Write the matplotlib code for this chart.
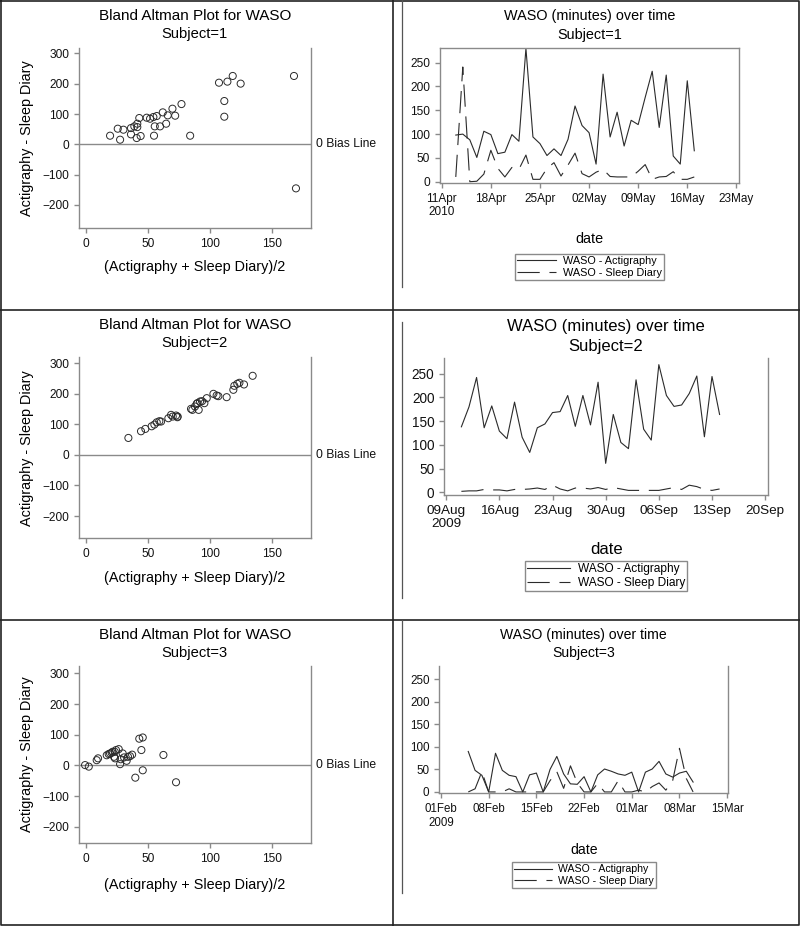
import numpy as np
import pandas as pd
import matplotlib
matplotlib.use("Agg")
import matplotlib.pyplot as plt
import matplotlib.transforms as mtransforms
from matplotlib.lines import Line2D

plt.rcParams["font.family"] = ["Liberation Sans", "DejaVu Sans"]
plt.rcParams["lines.scale_dashes"] = False

W, H = 800, 926

# ── Bland-Altman data (mean, difference) ──────────────────────────────────────
BA1_MEAN = [19.4, 25.6, 27.5, 30.2, 36.3, 36.3, 39.0, 40.9, 41.4, 41.4, 43.0, 44.1,
            49.0, 51.7, 54.4, 54.9, 55.5, 57.1, 59.8, 62.0, 64.7, 66.0, 69.8, 72.0,
            77.1, 84.1, 107.4, 111.7, 111.7, 114.2, 118.5, 124.9, 168.0, 169.6]
BA1_DIFF = [28.6, 51.7, 15.4, 48.4, 53.8, 33.0, 59.4, 20.9, 68.2, 57.0, 86.9, 27.5,
            88.0, 84.7, 90.2, 28.6, 59.4, 93.5, 59.4, 105.6, 68.2, 95.7, 117.7, 94.6,
            133.0, 28.6, 203.5, 143.0, 91.3, 207.0, 225.7, 200.4, 225.7, -145.2]

BA2_MEAN = [34.2, 44.4, 47.9, 53.0, 55.2, 57.1, 59.2, 60.6, 66.5, 68.7, 70.0, 72.7,
            73.8, 74.0, 84.8, 85.9, 88.0, 89.4, 90.0, 91.0, 92.1, 93.7, 95.6, 97.5,
            102.9, 105.5, 106.9, 113.6, 119.0, 119.8, 122.2, 123.9, 127.6, 134.6]
BA2_DIFF = [55.8, 77.7, 85.4, 94.0, 99.6, 107.0, 110.6, 109.5, 120.4, 131.4, 125.9, 129.2,
            123.7, 126.0, 151.0, 147.8, 158.7, 167.5, 170.0, 147.8, 175.2, 176.2, 169.7, 186.1,
            200.3, 194.9, 192.7, 189.4, 213.5, 226.6, 233.2, 236.5, 231.0, 259.4]

BA3_MEAN = [-0.8, 2.2, 8.6, 9.7, 16.7, 18.3, 19.4, 20.7, 21.5, 23.2, 24.2, 26.4,
            22.6, 23.4, 27.5, 28.0, 29.6, 30.7, 32.8, 33.9, 35.5, 37.2, 39.8, 43.0,
            44.7, 45.8, 45.8, 62.5, 72.7]
BA3_DIFF = [1, -4, 17, 23, 33, 37, 39, 41, 44.5, 44.5, 50, 53,
            28, 23, 4, 20, 39, 26, 15, 28, 30, 35, -40, 87,
            50, 91, -16, 34, -55]

# ── WASO time series (one value per day) ──────────────────────────────────────
TS1_START = "2010-04-13"
TS1_ACT = [98, 100, 88, 51, 106, 99, 59, 62, 99, 85, 280, 94, 80, 55, 69, 55, 89, 159,
           118, 103, 37, 226, 94, 146, 75, 129, 120, 177, 232, 114, 224, 54, 37, 212, 65]
TS1_DIARY = [10, 241, 0, 1, 16, 66, 28, 10, 30, 26, 56, 5, 5, 28, 40, 12, 35, 60,
             17, 10, 20, 26, 11, 10, 10, 10, 22, 36, 5, 10, 11, 21, 5, 5, 10]
TS1_TICKS = ["2010-04-11", "2010-04-18", "2010-04-25", "2010-05-02",
             "2010-05-09", "2010-05-16", "2010-05-23"]
TS1_LABELS = ["11Apr\n2010", "18Apr", "25Apr", "02May", "09May", "16May", "23May"]

TS2_START = "2009-08-11"
TS2_ACT = [138, 180, 242, 136, 182, 129, 113, 190, 116, 84, 136, 144, 168, 170, 204, 139,
           204, 142, 232, 61, 164, 105, 92, 237, 133, 110, 269, 204, 181, 184, 208, 245,
           117, 244, 164]
TS2_DIARY = [2, 3, 3, 6, 5, 5, 3, 6, 6, 7, 9, 6, 15, 7, 3, 9, 9, 7, 10, 6, 10, 7,
             4, 4, 4, 4, 4, 7, 10, 6, 15, 12, 6, 4, 7]
TS2_TICKS = ["2009-08-09", "2009-08-16", "2009-08-23", "2009-08-30",
             "2009-09-06", "2009-09-13", "2009-09-20"]
TS2_LABELS = ["09Aug\n2009", "16Aug", "23Aug", "30Aug", "06Sep", "13Sep", "20Sep"]

TS3_START = "2009-02-05"
TS3_ACT = [90, 48, 37, 0, 86, 48, 37, 34, 0, 38, 42, 0, 50, 79, 40, 18, 17, 34, 0,
           38, 51, 46, 40, 37, 44, 0, 44, 51, 68, 40, 33, 42, 46, 22]
TS3_DIARY = [0, 7, 45, 0, 0, 0, 7, 0, 0, 0, 0, 0, 25, 45, 8, 58, 20, 0, 0,
             19, 0, 0, 25, 0, 0, 4, 0, 12, 20, 4, 25, 97, 30, 0]
TS3_TICKS = ["2009-02-01", "2009-02-08", "2009-02-15", "2009-02-22",
             "2009-03-01", "2009-03-08", "2009-03-15"]
TS3_LABELS = ["01Feb\n2009", "08Feb", "15Feb", "22Feb", "01Mar", "08Mar", "15Mar"]

AXIS_GREY = "#8a8a8a"
INK = "#2b2b2b"
DASH = (16, 7)

fig = plt.figure(figsize=(W / 100, H / 100), dpi=100)


def px_axes(l, t, r, b):
    return fig.add_axes([l / W, 1 - b / H, (r - l) / W, (b - t) / H])


def ftext(x, y, s, **kw):
    kw.setdefault("ha", "center")
    kw.setdefault("va", "center")
    fig.text(x / W, 1 - y / H, s, **kw)


def style(ax, top, fs):
    for side in ["left", "bottom", "right", "top"]:
        ax.spines[side].set_color(AXIS_GREY)
        ax.spines[side].set_linewidth(1.0)
    ax.spines["top"].set_visible(top)
    ax.tick_params(length=3.6, width=1.0, color=AXIS_GREY, labelsize=fs,
                   labelcolor="#111111", pad=3.5)


# ── Bland-Altman panels ───────────────────────────────────────────────────────

def bland_altman(geom, mean, diff, subject, ylim, title_y, xlab_y):
    l, t, r, b = geom
    ax = px_axes(l, t, r, b)
    ax.axhline(0, color=AXIS_GREY, lw=1.0, zorder=1)
    ax.scatter(mean, diff, s=26, facecolors="none", edgecolors=INK,
               linewidths=0.7, zorder=2)
    ax.set_xlim(-5.7, 181.5)
    ax.set_ylim(*ylim)
    ax.set_xticks([0, 50, 100, 150])
    ax.set_yticks([-200, -100, 0, 100, 200, 300])
    style(ax, False, 8.6)
    trans = mtransforms.blended_transform_factory(ax.transAxes, ax.transData)
    ax.text(1.022, 0, "0 Bias Line", transform=trans, ha="left", va="center",
            fontsize=8.7, color="#111111", clip_on=False)
    cx = (l + r) / 2
    ftext(cx, title_y, "Bland Altman Plot for WASO", fontsize=11)
    ftext(cx, title_y + 18, f"Subject={subject}", fontsize=10.6)
    ftext(27, (t + b) / 2, "Actigraphy - Sleep Diary", fontsize=10.4, rotation=90)
    ftext(cx, xlab_y, "(Actigraphy + Sleep Diary)/2", fontsize=10.4)


bland_altman((79, 48, 310.7, 227.7), BA1_MEAN, BA1_DIFF, 1, (-275, 318), 15.7, 267)
bland_altman((79, 357.3, 310.7, 538.3), BA2_MEAN, BA2_DIFF, 2, (-273, 320), 325, 578)
bland_altman((79, 666, 310.7, 843), BA3_MEAN, BA3_DIFF, 3, (-253, 324), 635, 885)


# ── Time series panels ────────────────────────────────────────────────────────

def timeseries(geom, start, act, diary, ticks, labels, subject, xmax_pad, ylim, box,
               title_y, subj_y, date_y, leg_top, fs, title_fs, leg_fs):
    l, t, r, b = geom
    ax = px_axes(l, t, r, b)
    days = pd.date_range(start, periods=len(act), freq="D")
    ax.plot(days, act, color=INK, lw=0.8)
    ax.plot(days, diary, color=INK, lw=0.8, dashes=DASH)
    tick_dates = pd.to_datetime(ticks)
    ax.set_xlim(tick_dates[0] - pd.Timedelta(hours=6),
                tick_dates[-1] + pd.Timedelta(hours=xmax_pad))
    ax.set_ylim(*ylim)
    ax.set_xticks(tick_dates)
    ax.set_xticklabels(labels, multialignment="center", linespacing=1.15)
    ax.set_yticks([0, 50, 100, 150, 200, 250])
    style(ax, box, fs)
    ax.tick_params(axis="x", labelsize=fs - 0.1)
    cx = (l + r) / 2
    ftext(cx, title_y, "WASO (minutes) over time", fontsize=title_fs)
    ftext(cx, subj_y, f"Subject={subject}", fontsize=title_fs)
    ftext(cx, date_y, "date", fontsize=title_fs)
    handles = [Line2D([], [], color=INK, lw=0.8),
               Line2D([], [], color=INK, lw=0.8, dashes=DASH)]
    leg = ax.legend(handles, ["WASO - Actigraphy", "WASO - Sleep Diary"],
                    loc="upper center", bbox_to_anchor=(cx / W, 1 - leg_top / H),
                    bbox_transform=fig.transFigure, frameon=True, fancybox=False,
                    edgecolor=AXIS_GREY, framealpha=1, fontsize=leg_fs,
                    handlelength=3.6, handletextpad=0.6, borderpad=0.2,
                    labelspacing=0.15, borderaxespad=0)
    leg.get_frame().set_linewidth(1.0)
    return ax


timeseries((440, 47.7, 739, 183), TS1_START, TS1_ACT, TS1_DIARY,
           TS1_TICKS, TS1_LABELS, 1, 9, (-2.7, 281.5), True,
           15.7, 35, 239, 254, 8.6, 10.4, 7.8)
timeseries((444.3, 358, 768, 495), TS2_START, TS2_ACT, TS2_DIARY,
           TS2_TICKS, TS2_LABELS, 2, 9, (-5.7, 283), False,
           326, 346, 550, 560.7, 9.8, 12, 8.6)
timeseries((439.3, 666, 728.3, 793.3), TS3_START, TS3_ACT, TS3_DIARY,
           TS3_TICKS, TS3_LABELS, 3, 4, (-3, 280), False,
           635, 653.3, 850, 862.3, 8.4, 10.1, 7.6)


# ── Cell borders ──────────────────────────────────────────────────────────────

def fline(xs, ys, **kw):
    fig.add_artist(Line2D([x / W for x in xs], [1 - y / H for y in ys],
                          transform=fig.transFigure, **kw))


border = dict(color="#222222", lw=1.2)
fline([0.6, 799.4, 799.4, 0.6, 0.6], [0.6, 0.6, 925.4, 925.4, 0.6], **border)
fline([393, 393], [0, 926], **border)
fline([0, 800], [309.5, 309.5], **border)
fline([0, 800], [619.5, 619.5], **border)
inner = dict(color="#555555", lw=0.9)
fline([402, 402], [0, 287], **inner)
fline([402, 402], [322, 598], **inner)
fline([402, 402], [620, 893], **inner)

fig.savefig("out.png", dpi=100)
